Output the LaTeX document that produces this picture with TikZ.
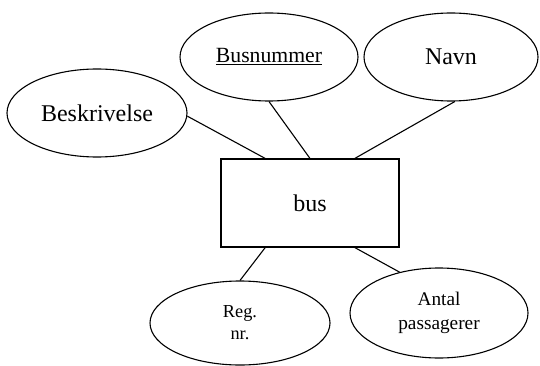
\documentclass[tikz,border=0pt]{standalone}
\usepackage{fontspec}
\setmainfont{Liberation Serif}
\usetikzlibrary{shapes.geometric,calc}
\tikzset{
  attr/.style={draw, ellipse, line width=1.1pt, inner sep=0pt, align=center},
  entity/.style={draw, rectangle, line width=1.1pt, inner sep=0pt,
    minimum width=178pt, minimum height=88pt},
  link/.style={line width=1.1pt},
}
\begin{document}
\begin{tikzpicture}[x=1pt, y=-1pt]
\useasboundingbox (0,0) rectangle (540,366);
% entity
\node[entity, font=\fontsize{24}{28}\selectfont] (bus) at (310,203) {bus};
% attributes
\node[attr, minimum width=180pt, minimum height=88pt, font=\fontsize{24}{28}\selectfont]
  (besk) at (97,113) {Beskrivelse};
\node[attr, minimum width=178pt, minimum height=88pt, font=\fontsize{21.7}{26}\selectfont]
  (busnr) at (269,57) {\underline{Busnummer}};
\node[attr, minimum width=174pt, minimum height=88pt, font=\fontsize{24}{28}\selectfont]
  (navn) at (451,57) {Navn};
\node[attr, minimum width=180pt, minimum height=84pt, font=\fontsize{18.3}{22}\selectfont]
  (reg) at (240,323) {Reg.\\nr.};
\node[attr, minimum width=178pt, minimum height=90pt, font=\fontsize{19.3}{24}\selectfont]
  (antal) at (439,313) {Antal\\passagerer};
% connectors
\draw[link] (besk.-2) -- ($(bus.north west)!0.25!(bus.north east)$);
\draw[link] (busnr.south) -- ($(bus.north west)!0.5!(bus.north east)$);
\draw[link] (navn.-85) -- ($(bus.north west)!0.75!(bus.north east)$);
\draw[link] ($(bus.south west)!0.25!(bus.south east)$) -- (reg.north);
\draw[link] ($(bus.south west)!0.75!(bus.south east)$) -- (antal.134);
\end{tikzpicture}
\end{document}
